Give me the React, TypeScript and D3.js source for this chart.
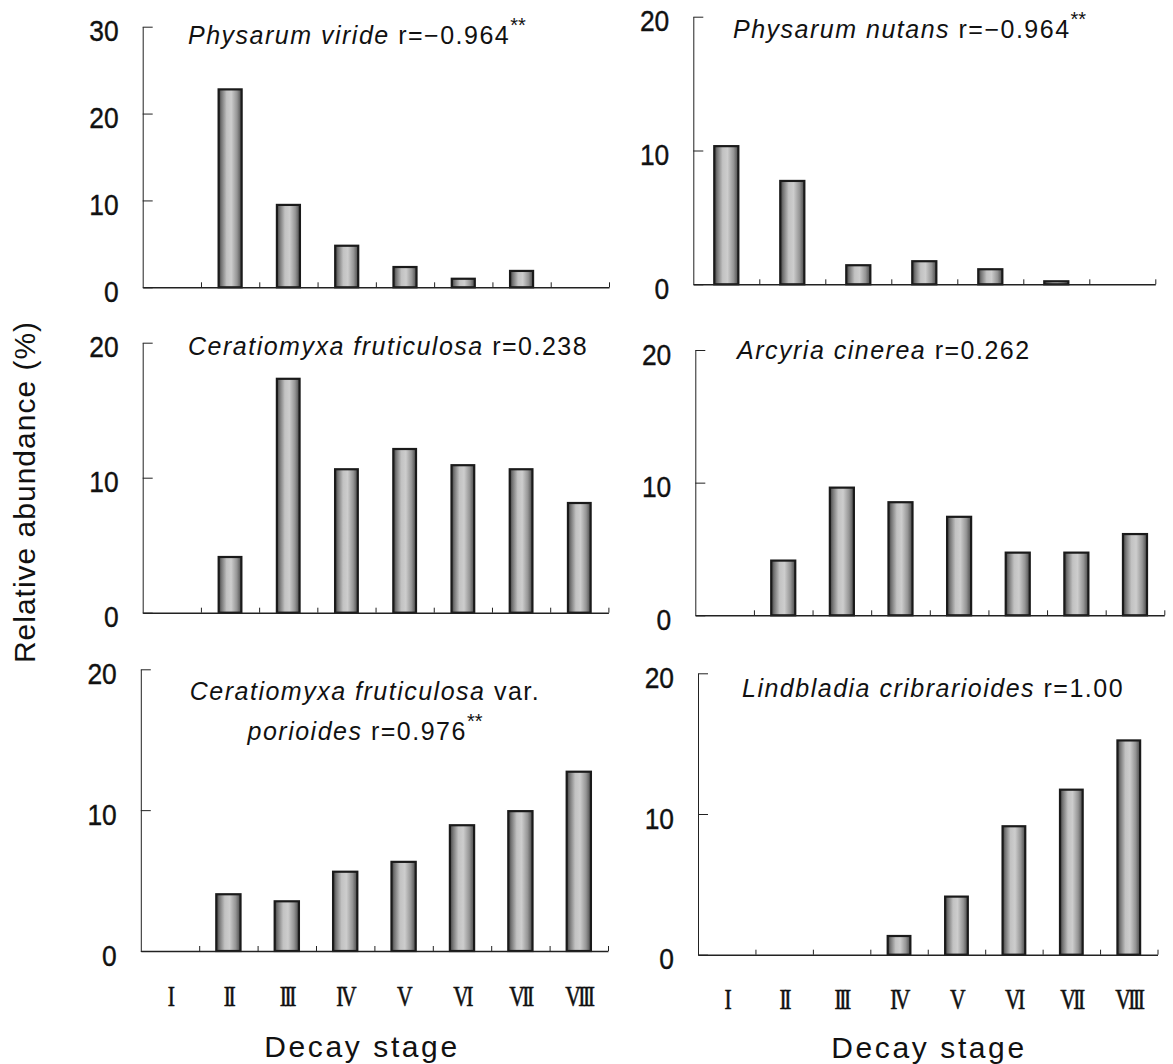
import React, { useEffect, useRef } from "react";
import * as d3 from "d3";

// decay stages (x categories)
const stages8 = ["I", "II", "III", "IV", "V", "VI", "VII", "VIII"];
const stages7 = ["I", "II", "III", "IV", "V", "VI", "VII"];

// relative abundance (%) per stage
const viride = [0, 22.9, 9.6, 4.9, 2.45, 1.1, 2.0, 0];
const nutans = [10.4, 7.8, 1.5, 1.8, 1.2, 0.3, 0];
const fruticulosa = [0, 4.2, 17.4, 10.7, 12.2, 11.0, 10.7, 8.2];
const cinerea = [0, 4.2, 9.7, 8.6, 7.5, 4.8, 4.8, 6.2];
const porioides = [0, 4.1, 3.6, 5.7, 6.4, 9.0, 10.0, 12.8];
const cribrarioides = [0, 0, 0, 1.4, 4.2, 9.2, 11.8, 15.3];

const ticks30 = [0, 10, 20, 30];
const ticks20 = [0, 10, 20];

type Seg = { t: string; italic?: boolean; sup?: boolean };

const titleViride: Seg[][] = [[{ t: "Physarum viride", italic: true }, { t: " r=\u22120.964" }, { t: "**", sup: true }]];
const titleNutans: Seg[][] = [[{ t: "Physarum nutans", italic: true }, { t: " r=\u22120.964" }, { t: "**", sup: true }]];
const titleFruticulosa: Seg[][] = [[{ t: "Ceratiomyxa fruticulosa", italic: true }, { t: " r=0.238" }]];
const titleCinerea: Seg[][] = [[{ t: "Arcyria cinerea", italic: true }, { t: " r=0.262" }]];
const titlePorioides: Seg[][] = [
  [{ t: "Ceratiomyxa fruticulosa", italic: true }, { t: " var." }],
  [{ t: "porioides", italic: true }, { t: " r=0.976" }, { t: "**", sup: true }],
];
const titleCribrarioides: Seg[][] = [[{ t: "Lindbladia cribrarioides", italic: true }, { t: " r=1.00" }]];

const xLabel = "Decay stage";
const yLabel = "Relative abundance (%)";

// panel layout (pixels)
const panels = [
  { stages: stages8, values: viride, max: 30, ticks: ticks30, x0: 142.7, x1: 609, yTop: 26.7, y0: 287.3, bar: 0.395, title: titleViride, tx: 188, ty: 44, anchor: "start", labels: false },
  { stages: stages7, values: nutans, max: 20, ticks: ticks20, x0: 693.3, x1: 1155.3, yTop: 16.7, y0: 284.3, bar: 0.365, title: titleNutans, tx: 733, ty: 38, anchor: "start", labels: false },
  { stages: stages8, values: fruticulosa, max: 20, ticks: ticks20, x0: 142.7, x1: 608.4, yTop: 342.7, y0: 612.7, bar: 0.39, title: titleFruticulosa, tx: 188, ty: 355, anchor: "start", labels: false },
  { stages: stages8, values: cinerea, max: 20, ticks: ticks20, x0: 695.3, x1: 1164.3, yTop: 350, y0: 615.3, bar: 0.41, title: titleCinerea, tx: 737, ty: 359, anchor: "start", labels: false },
  { stages: stages8, values: porioides, max: 20, ticks: ticks20, x0: 140.8, x1: 608, yTop: 669.3, y0: 951, bar: 0.415, title: titlePorioides, tx: 365, ty: 700, anchor: "middle", labels: true, ly: 1006, lx: 362, lt: 1057 },
  { stages: stages8, values: cribrarioides, max: 20, ticks: ticks20, x0: 698, x1: 1157.5, yTop: 673.3, y0: 954.7, bar: 0.395, title: titleCribrarioides, tx: 742, ty: 697, anchor: "start", labels: true, ly: 1009, lx: 929, lt: 1058 },
];

const SANS = "'Liberation Sans', Arial, sans-serif";
const SERIF = "'Liberation Serif', 'Times New Roman', serif";

function drawPanel(svg: any, p: any) {
  const g = svg.append("g");
  const n = p.stages.length;
  const y = d3.scaleLinear().domain([0, p.max]).range([p.y0, p.yTop]);
  const xb = d3.scaleBand().domain(p.stages).range([p.x0, p.x1]).padding(0);
  const xl = d3.scaleLinear().domain([0, n]).range([p.x0, p.x1]);
  const bw = xb.bandwidth();
  const w = bw * p.bar;

  const data = p.values.map((v: number, i: number) => ({ s: p.stages[i], v })).filter((d: any) => d.v > 0);

  g.selectAll("rect.bar")
    .data(data)
    .join("rect")
    .attr("class", "bar")
    .attr("x", (d: any) => (xb(d.s) as number) + (bw - w) / 2)
    .attr("y", (d: any) => y(d.v) + 1)
    .attr("width", w)
    .attr("height", (d: any) => p.y0 - y(d.v) - 1)
    .attr("fill", "url(#barGrad)")
    .attr("stroke", "#1a1a1a")
    .attr("stroke-width", 2.2);

  // x axis: ticks at stage boundaries, pointing up
  const xg = g.append("g").attr("transform", `translate(0,${p.y0})`)
    .call(d3.axisBottom(xl).tickValues(d3.range(1, n + 1)).tickSizeInner(-5).tickSizeOuter(0).tickFormat(() => ""));
  xg.select(".domain").attr("stroke", "#222").attr("stroke-width", 1.4);
  xg.selectAll(".tick line").attr("stroke", "#222");

  // y axis: inward ticks
  const yg = g.append("g").attr("transform", `translate(${p.x0},0)`)
    .call(d3.axisLeft(y).tickValues(p.ticks).tickSizeInner(-10).tickSizeOuter(0).tickPadding(0).tickFormat(d3.format("d")));
  yg.select(".domain").attr("stroke", "#222");
  yg.selectAll(".tick line").attr("stroke", "#222");
  yg.attr("font-family", SANS).attr("font-size", 30);
  yg.selectAll(".tick text")
    .attr("x", 0)
    .attr("dy", null)
    .attr("fill", "#111")
    .attr("stroke", "#111")
    .attr("stroke-width", 0.4)
    .attr("transform", "translate(-24,14) scale(0.88,1)");

  // title
  p.title.forEach((line: Seg[], li: number) => {
    const t = g.append("text")
      .attr("x", p.tx)
      .attr("y", p.ty + li * 40)
      .attr("text-anchor", p.anchor)
      .attr("font-family", SANS)
      .attr("font-size", 25)
      .attr("letter-spacing", 1.5)
      .attr("fill", "#111");
    line.forEach((s) => {
      const ts = t.append("tspan").text(s.t);
      if (s.italic) ts.attr("font-style", "italic");
      if (s.sup) ts.attr("font-size", 20).attr("dy", -12).attr("letter-spacing", 0);
    });
  });

  if (p.labels) {
    g.selectAll("text.stage")
      .data(p.stages)
      .join("text")
      .attr("class", "stage")
      .attr("transform", (s: string) => `translate(${(xb(s) as number) + bw / 2},${p.ly}) scale(0.72,1)`)
      .attr("text-anchor", "middle")
      .attr("font-family", SERIF)
      .attr("font-size", 30)
      .attr("letter-spacing", -3.5)
      .attr("fill", "#111")
      .attr("stroke", "#111")
      .attr("stroke-width", 0.6)
      .text((s: string) => s);

    g.append("text")
      .attr("x", p.lx)
      .attr("y", p.lt)
      .attr("text-anchor", "middle")
      .attr("font-family", SANS)
      .attr("font-size", 30)
      .attr("letter-spacing", 2.6)
      .attr("fill", "#111")
      .text(xLabel);
  }
}

export default function App() {
  const ref = useRef<SVGSVGElement>(null);

  useEffect(() => {
    const svg = d3.select(ref.current);
    svg.selectAll("*").remove();

    const grad = svg.append("defs").append("linearGradient")
      .attr("id", "barGrad").attr("x1", "0").attr("x2", "1").attr("y1", "0").attr("y2", "0");
    [
      [0, "#3c3c3c"], [0.12, "#747474"], [0.35, "#c2c2c2"], [0.55, "#cdcdcd"], [0.8, "#959595"], [1, "#484848"],
    ].forEach(([o, c]) => grad.append("stop").attr("offset", o as number).attr("stop-color", c as string));

    panels.forEach((p) => drawPanel(svg, p));

    svg.append("text")
      .attr("transform", "translate(24,492) rotate(-90)")
      .attr("text-anchor", "middle")
      .attr("dominant-baseline", "central")
      .attr("font-family", SANS)
      .attr("font-size", 30)
      .attr("letter-spacing", 1)
      .attr("fill", "#111")
      .text(yLabel);
  }, []);

  return (
    <svg
      ref={ref}
      width={1173}
      height={1064}
      style={{ position: "absolute", left: 0, top: 0, background: "#fff" }}
    />
  );
}
